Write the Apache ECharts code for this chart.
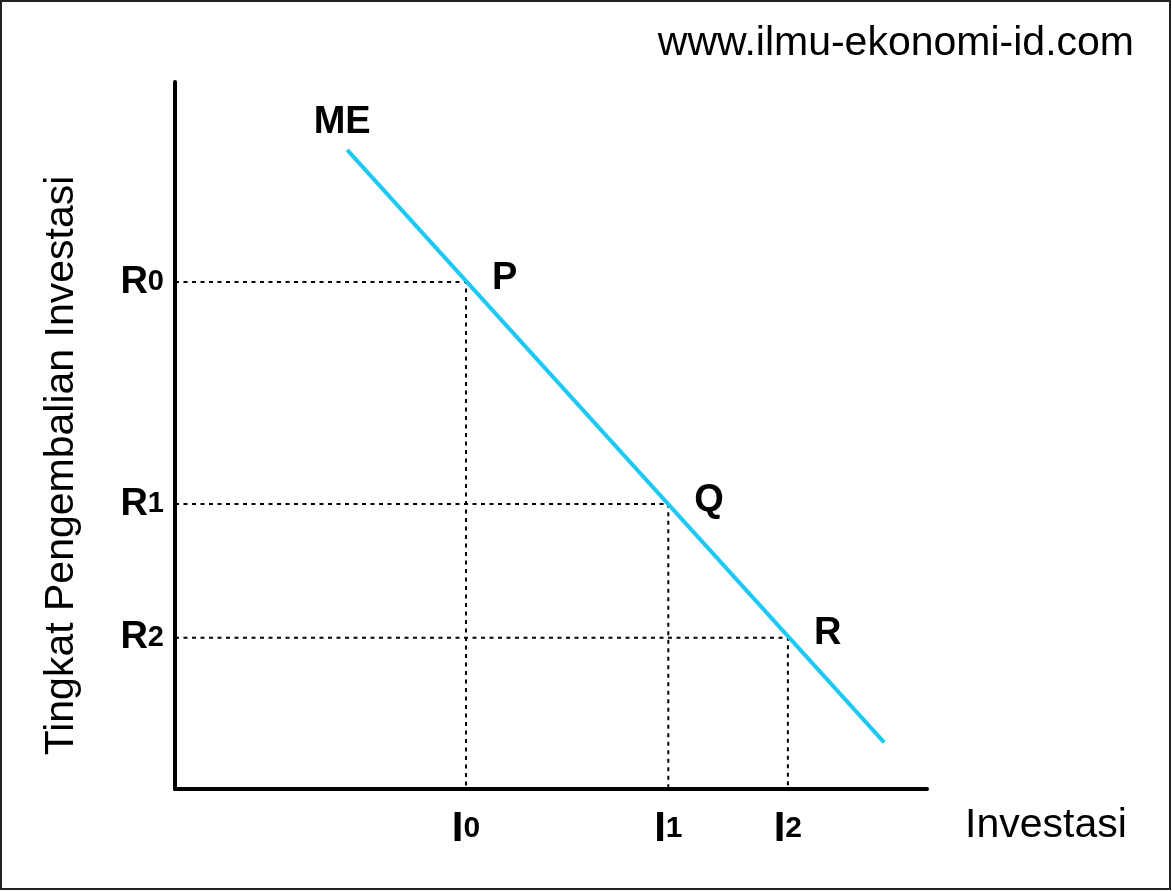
<!DOCTYPE html>
<html>
<head>
<meta charset="utf-8">
<script src="https://cdn.jsdelivr.net/npm/echarts@6/dist/echarts.min.js"></script>
<style>
html,body{margin:0;padding:0;background:#fff;}
#chart{width:1172px;height:891px;}
</style>
</head>
<body>
<div id="chart"></div>
<script>
// ---- data ----
const investLabels = ['I0', 'I1', 'I2'];
const investValues = [38.7, 65.6, 81.5];
const returnLabels = ['R0', 'R1', 'R2'];
const returnValues = [71.7, 40.3, 21.4];
const pointNames = ['P', 'Q', 'R'];
const meCurve = [[22.9, 90.4], [94.3, 6.6]];
const meName = 'ME';
const xName = 'Investasi';
const yName = 'Tingkat Pengembalian Investasi';
const sourceText = 'www.ilmu-ekonomi-id.com';

const FONT = '"Liberation Sans", Arial, sans-serif';

function subLabel(labels, values) {
  return function (v) {
    let i = values.indexOf(v);
    if (i < 0) {
      let best = 0, d = Infinity;
      values.forEach((x, k) => { if (Math.abs(x - v) < d) { d = Math.abs(x - v); best = k; } });
      i = best;
    }
    const s = labels[i];
    return '{b|' + s.charAt(0) + '}{s|' + s.slice(1) + '}';
  };
}

const guideSeries = investValues.map((xv, i) => ({
  type: 'line',
  data: [[0, returnValues[i]], [xv, returnValues[i]], [xv, 0]],
  symbol: 'none',
  silent: true,
  z: 1,
  lineStyle: { color: '#000', width: 2, type: [4, 4.5] }
}));

const labelFont = { fontFamily: FONT, fontSize: 38, fontWeight: 'bold', color: '#000', opacity: 1 };

const chart = echarts.init(document.getElementById('chart'), null, { renderer: 'canvas' });
chart.setOption({
  animation: false,
  backgroundColor: '#fff',
  textStyle: { fontFamily: FONT },
  grid: { left: 175, top: 82, width: 752, height: 707, containLabel: false },
  xAxis: {
    type: 'value', min: 0, max: 100,
    name: xName, nameLocation: 'end', nameGap: 38,
    nameTextStyle: { fontFamily: FONT, fontSize: 41, color: '#000', align: 'left', verticalAlign: 'top', padding: [16, 0, 0, 0] },
    splitLine: { show: false },
    axisTick: { show: false },
    axisLine: { lineStyle: { color: '#000', width: 4 } },
    axisLabel: {
      customValues: investValues,
      margin: 19,
      formatter: subLabel(investLabels, investValues),
      rich: {
        b: { fontFamily: FONT, fontSize: 42, fontWeight: 'bold', color: '#000' },
        s: { fontFamily: FONT, fontSize: 30, fontWeight: 'bold', color: '#000' }
      }
    }
  },
  yAxis: {
    type: 'value', min: 0, max: 100,
    name: yName, nameLocation: 'middle', nameGap: 93, nameRotate: 90,
    nameTextStyle: { fontFamily: FONT, fontSize: 41, color: '#000', padding: [0, 60, 0, 0] },
    splitLine: { show: false },
    axisTick: { show: false },
    axisLine: { lineStyle: { color: '#000', width: 4 } },
    axisLabel: {
      customValues: returnValues,
      margin: 11,
      formatter: subLabel(returnLabels, returnValues),
      rich: {
        b: { fontFamily: FONT, fontSize: 38, fontWeight: 'bold', color: '#000' },
        s: { fontFamily: FONT, fontSize: 29, fontWeight: 'bold', color: '#000' }
      }
    }
  },
  graphic: [
    { type: 'rect', shape: { x: 1, y: 1, width: 1169, height: 888 }, style: { fill: 'none', stroke: '#222', lineWidth: 2 }, silent: true },
    { type: 'text', x: 1134, y: 44, style: { text: sourceText, fontFamily: FONT, fontSize: 41, fill: '#000', align: 'right', verticalAlign: 'middle' } }
  ],
  series: guideSeries.concat([
    {
      type: 'line',
      data: meCurve,
      symbol: 'none',
      z: 3,
      lineStyle: { color: '#1bc9f3', width: 4 }
    },
    {
      type: 'scatter',
      data: [{ value: meCurve[0], name: meName }],
      symbolSize: 0,
      z: 4,
      itemStyle: { opacity: 1 },
      label: Object.assign({ show: true, position: 'top', distance: 8, offset: [-5, 0], formatter: p => p.name }, labelFont)
    },
    {
      type: 'scatter',
      data: investValues.map((xv, i) => ({ value: [xv, returnValues[i]], name: pointNames[i] })),
      symbolSize: 0,
      z: 4,
      itemStyle: { opacity: 1 },
      label: Object.assign({ show: true, position: 'right', distance: 26, offset: [0, -4], formatter: p => p.name }, labelFont)
    }
  ])
});
</script>
</body>
</html>
